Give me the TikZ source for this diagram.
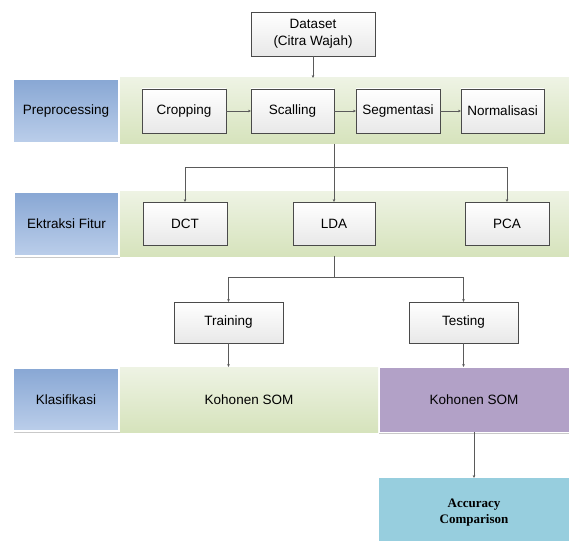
\documentclass[tikz,border=0pt]{standalone}
\usepackage{fontspec}
\setmainfont{Liberation Sans}
\newfontfamily\timesfont{Liberation Serif}
\usetikzlibrary{arrows.meta,shadows}
\definecolor{linec}{HTML}{5A5A5A}
\definecolor{boxborder}{HTML}{4A4A4A}
\definecolor{bluetop}{HTML}{88A7D4}
\definecolor{bluebot}{HTML}{BBCEEA}
\definecolor{greentop}{HTML}{EEF3E4}
\definecolor{greenbot}{HTML}{D6E3BC}
\definecolor{purplefill}{HTML}{B2A1C7}
\definecolor{cyanfill}{HTML}{97CEDE}
\tikzset{
  every node/.style={inner sep=0pt, outer sep=0pt, font=\fontsize{13.5}{16.5}\selectfont, align=center},
  band/.style={rectangle, top color=greentop, bottom color=greenbot, draw=none},
  stage/.style={rectangle, top color=bluetop, bottom color=bluebot, draw=white, line width=1.2pt,
     drop shadow={shadow xshift=1.2pt, shadow yshift=-1.5pt, opacity=0.35, fill=black!60}},
  procbox/.style={rectangle, top color=white, bottom color=black!9, draw=boxborder, line width=0.7pt},
  conn/.style={draw=linec, line width=0.7pt},
  arr/.style={conn, -{Stealth[length=3pt,width=2.6pt]}},
}
\begin{document}
\begin{tikzpicture}[x=1pt,y=-1pt]
\useasboundingbox[fill=white] (0,0) rectangle (569,540);

% bands
\node[band, minimum width=449, minimum height=66] (band1) at (344.5,111) {};
\node[band, minimum width=449, minimum height=65] (band2) at (344.5,223.5) {};
\node[band, minimum width=258, minimum height=65] (band3) at (249,399.5) {Kohonen SOM};
\node[rectangle, fill=purplefill, draw=white, line width=1pt, minimum width=190, minimum height=65,
      drop shadow={shadow xshift=0pt, shadow yshift=-1.5pt, opacity=0.35, fill=black!60}] (kohtest) at (474,399.5) {Kohonen SOM};
\node[rectangle, fill=cyanfill, minimum width=190, minimum height=70,
      font=\timesfont\bfseries\fontsize{13}{16}\selectfont] (acc) at (474,513)
   {Accuracy\\Comparison};

% stage labels
\node[stage, minimum width=106, minimum height=64] (pre) at (66,111) {Preprocessing};
\node[stage, minimum width=105, minimum height=64] (ekf) at (66.5,224) {Ektraksi Fitur};
\node[stage, minimum width=106, minimum height=63] (kla) at (66,399.5) {Klasifikasi};

% process boxes
\node[procbox, minimum width=124, minimum height=44] (data) at (313,34) {Dataset\\(Citra Wajah)};
\node[procbox, minimum width=84, minimum height=44] (crop) at (184,111) {Cropping};
\node[procbox, minimum width=83, minimum height=44] (scal) at (292.5,111) {Scalling};
\node[procbox, minimum width=84, minimum height=44] (segm) at (398,111) {Segmentasi};
\node[procbox, minimum width=83, minimum height=44] (norm) at (502.5,111) {Normalisasi};
\node[procbox, minimum width=84, minimum height=43] (dct) at (185,223.5) {DCT};
\node[procbox, minimum width=82, minimum height=43] (lda) at (334,223.5) {LDA};
\node[procbox, minimum width=84, minimum height=43] (pca) at (507,223.5) {PCA};
\node[procbox, minimum width=109, minimum height=41] (train) at (228.5,322.5) {Training};
\node[procbox, minimum width=109, minimum height=41] (test) at (463.5,322.5) {Testing};

% connectors
\draw[arr] (data.south) -- (data.south |- band1.north);
\draw[arr] (crop.east) -- (scal.west);
\draw[arr] (scal.east) -- (segm.west);
\draw[arr] (segm.east) -- (norm.west);

\coordinate (j1) at (334,167);
\draw[conn] (lda.north |- band1.south) -- (j1);
\draw[conn] (j1 -| dct.north) -- (j1 -| pca.north);
\draw[arr] (j1 -| dct.north) -- (dct.north);
\draw[arr] (j1) -- (lda.north);
\draw[arr] (j1 -| pca.north) -- (pca.north);

\coordinate (j2) at (334,277);
\draw[conn] (lda.south |- band2.south) -- (j2);
\draw[conn] (j2 -| train.north) -- (j2 -| test.north);
\draw[arr] (j2 -| train.north) -- (train.north);
\draw[arr] (j2 -| test.north) -- (test.north);

\draw[arr] (train.south) -- (train.south |- band3.north);
\draw[arr] (test.south) -- (test.south |- kohtest.north);
\draw[arr] (kohtest.south) -- (acc.north);
\end{tikzpicture}
\end{document}
